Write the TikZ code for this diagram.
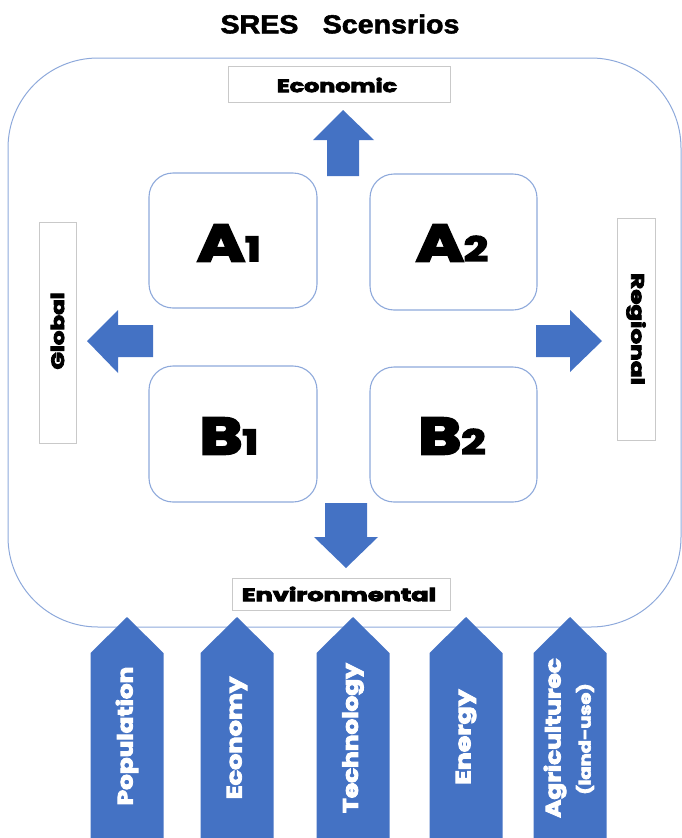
\documentclass[tikz,border=0pt]{standalone}
\usepackage{fontspec}
\usepackage{graphicx}
\setmainfont{Liberation Sans}
\newfontfamily\titlefont[FakeBold=2]{Liberation Sans}
\newfontfamily\heavy[FakeBold=4]{Poppins}
\definecolor{arrowblue}{HTML}{4472C4}
\definecolor{boxblue}{HTML}{8EA9DB}
\definecolor{lblgray}{HTML}{C9C9C9}
\newcommand{\wide}[2][1.35]{\scalebox{#1}[1]{#2}}
\tikzset{
  quad/.style={draw=boxblue, line width=1.1pt, rounded corners=24pt, fill=white},
  lblbox/.style={draw=lblgray, line width=0.8pt, fill=white},
  bigarrow/.style={fill=arrowblue, draw=none},
  lbltext/.style={font=\heavy\bfseries\fontsize{18}{20}\selectfont, text=black, inner sep=0pt},
  quadtext/.style={font=\heavy\bfseries\fontsize{52}{54}\selectfont, text=black, inner sep=0pt},
  drvtext/.style={font=\heavy\bfseries\fontsize{21}{23}\selectfont, text=white, inner sep=0pt, rotate=90},
}
\newcommand{\smalldigit}[1]{{\fontsize{34}{36}\selectfont #1}}
\begin{document}
\begin{tikzpicture}[x=1pt,y=-1pt]
\useasboundingbox (0,0) rectangle (682,838);
% title
\node[font=\titlefont\bfseries\fontsize{26}{28}\selectfont, xscale=1.1, inner sep=0pt] (title) at (340,24) {SRES\hspace{0.85em}Scensrios};
% outer frame
\draw[draw=boxblue, line width=1pt, rounded corners=90pt] (8,58) rectangle (681,627);
% quadrant boxes
\draw[quad] (149,173) rectangle (317,308);
\draw[quad] (370,174) rectangle (537,310);
\draw[quad] (149,366) rectangle (317,502);
\draw[quad] (370,367) rectangle (537,502);
\node[quadtext] (a1) at (229,243) {\wide[1.25]{A\smalldigit{1}}};
\node[quadtext] (a2) at (452,243) {\wide[1.25]{A\smalldigit{2}}};
\node[quadtext] (b1) at (229,436) {\wide[1.25]{B\smalldigit{1}}};
\node[quadtext] (b2) at (452,436) {\wide[1.25]{B\smalldigit{2}}};
% label boxes
\draw[lblbox] (228,66) rectangle (450,102);
\node[lbltext] (econ) at (337,85) {\wide[1.32]{Economic}};
\draw[lblbox] (232,578) rectangle (450,610);
\node[lbltext] (env) at (339,594) {\wide[1.42]{Environmental}};
\draw[lblbox] (39,222) rectangle (76,443);
\node[lbltext, rotate=90] (glob) at (57.5,331) {\wide[1.28]{Global}};
\draw[lblbox] (617,218) rectangle (655,440);
\node[lbltext, rotate=-90] (reg) at (636,329) {\wide[1.37]{Regional}};
% direction arrows
\path[bigarrow] (327,176) -- (327,140) -- (313,140) -- (343,110) -- (374,140) -- (359,140) -- (359,176) -- cycle;
\path[bigarrow] (325,503) -- (325,537) -- (314,537) -- (346,568) -- (378,537) -- (367,537) -- (367,503) -- cycle;
\path[bigarrow] (153,325) -- (118,325) -- (118,310) -- (87,341) -- (118,373) -- (118,357) -- (153,357) -- cycle;
\path[bigarrow] (536,325) -- (570,325) -- (570,310) -- (602,341) -- (570,372) -- (570,357) -- (536,357) -- cycle;
% driver arrows
\foreach \c in {127,237,353,466,570}{
  \path[bigarrow] (\c-36.5,838) -- (\c-36.5,653) -- (\c,617) -- (\c+36.5,653) -- (\c+36.5,838) -- cycle;
}
\node[drvtext] (pop) at (127,736) {\wide[1.18]{Population}};
\node[drvtext] (eco) at (237,738) {\wide[1.22]{Economy}};
\node[drvtext] (tech) at (353,738) {\wide[1.18]{Technology}};
\node[drvtext] (ener) at (466,737) {\wide[1.27]{Energy}};
\node[drvtext] (agri) at (555,738) {\wide[1.18]{Agriculturec}};
\node[drvtext, font=\heavy\bfseries\fontsize{16}{18}\selectfont] (land) at (585,739) {\wide[1.22]{(land-use)}};
\end{tikzpicture}
\end{document}
